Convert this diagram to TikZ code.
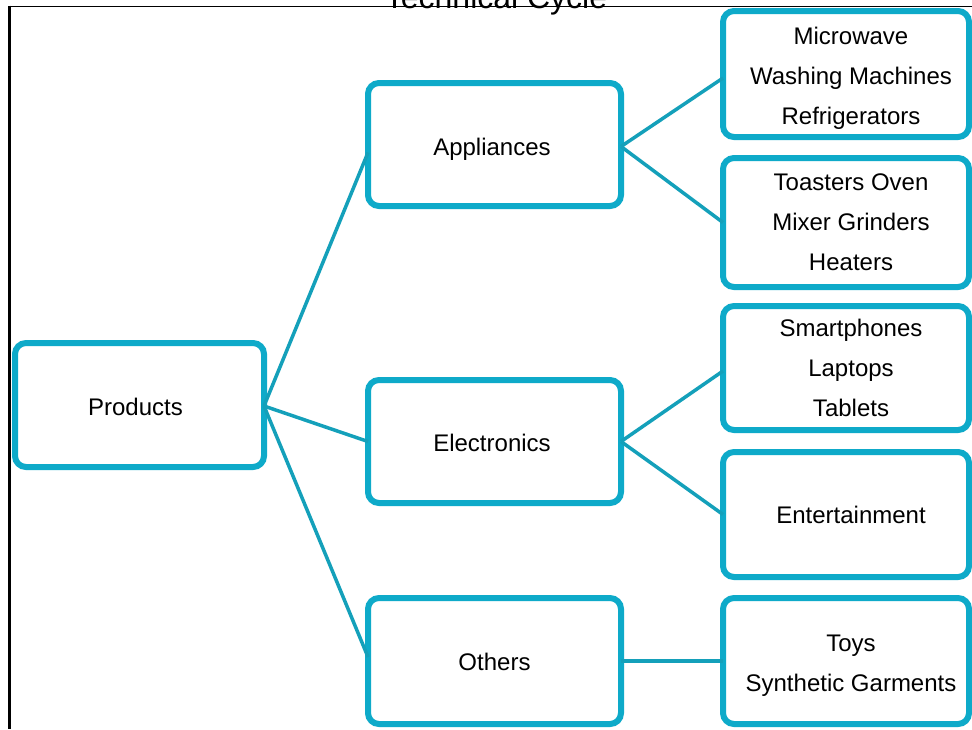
\documentclass[tikz,border=0pt]{standalone}
\usepackage{fontspec}
\setmainfont{Liberation Sans}
\usetikzlibrary{shadows}
\definecolor{boxteal}{RGB}{14,170,201}
\definecolor{lineteal}{RGB}{20,160,186}
% #1 raise (positive = up), #2 horizontal kern (2x shift), #3 lines separated by \cr
\newcommand\boxtext[3]{\raisebox{#1}[0pt][0pt]{\kern#2\vtop{\baselineskip=40pt\halign{\hfil##\hfil\cr#3\crcr}}}}
\tikzset{
  itembox/.style={rectangle, rounded corners=11pt, draw=boxteal, line width=6pt, fill=white,
    outer sep=0pt, inner sep=0pt,
    font=\fontsize{24}{40}\selectfont,
    drop shadow={opacity=0.22, shadow xshift=1.5pt, shadow yshift=-2.5pt}},
  link/.style={draw=lineteal, line width=3.5pt}
}
\begin{document}
\begin{tikzpicture}[x=1pt,y=-1pt]
\useasboundingbox (0,0) rectangle (972,729);
\clip (0,0) rectangle (972,729);
\fill[white] (0,0) rectangle (972,729);
% frame
\draw[line width=1pt] (9,6) -- (972,6);
\draw[line width=2.5pt] (9.5,5.5) -- (9.5,729);
% cut-off title
\node[anchor=base, inner sep=0pt, font=\fontsize{32}{36}\selectfont] (title) at (496,8) {Technical Cycle};
% nodes
\node[itembox, minimum width=249pt, minimum height=124pt] (prod) at (139.5,405) {\boxtext{-10pt}{-8pt}{Products}};
\node[itembox, minimum width=253pt, minimum height=123pt] (appl) at (494.5,144.5) {\boxtext{-10.5pt}{-5pt}{Appliances}};
\node[itembox, minimum width=253pt, minimum height=123pt] (elec) at (494.5,441.5) {\boxtext{-10pt}{-5pt}{Electronics}};
\node[itembox, minimum width=253pt, minimum height=126pt] (oth) at (494.5,661) {\boxtext{-9.7pt}{0pt}{Others}};
\node[itembox, minimum width=246pt, minimum height=126pt] (r1) at (846,74) {\boxtext{29.7pt}{10pt}{Microwave\cr Washing Machines\cr Refrigerators}};
\node[itembox, minimum width=246pt, minimum height=129pt] (r2) at (846,222.5) {\boxtext{32.5pt}{10pt}{Toasters Oven\cr Mixer Grinders\cr Heaters}};
\node[itembox, minimum width=246pt, minimum height=124pt] (r3) at (846,368) {\boxtext{31.3pt}{10pt}{Smartphones\cr Laptops\cr Tablets}};
\node[itembox, minimum width=246pt, minimum height=125pt] (r4) at (846,514.5) {\boxtext{-8.8pt}{10pt}{Entertainment}};
\node[itembox, minimum width=246pt, minimum height=126pt] (r5) at (846,661) {\boxtext{9.5pt}{10pt}{Toys\cr Synthetic Garments}};
% connectors
\draw[link] ([yshift=-1pt]prod.east) -- ([yshift=-8pt]appl.west);
\draw[link] ([yshift=-1pt]prod.east) -- (elec.west);
\draw[link] ([yshift=-1pt]prod.east) -- ([yshift=4pt]oth.west);
\draw[link] ([yshift=-2pt]appl.east) -- ([yshift=-4pt]r1.west);
\draw[link] ([yshift=-2pt]appl.east) -- (r2.west);
\draw[link] (elec.east) -- ([yshift=-3pt]r3.west);
\draw[link] (elec.east) -- (r4.west);
\draw[link] (oth.east) -- (r5.west);
\end{tikzpicture}
\end{document}
